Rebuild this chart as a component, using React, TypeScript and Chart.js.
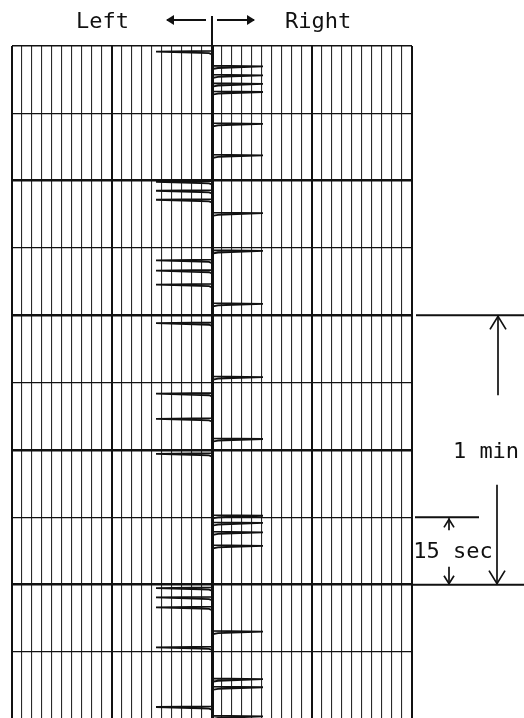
import React, { useEffect, useRef } from "react";
import { Chart, registerables } from "chart.js";

Chart.register(...registerables);

// Pen deflection events (time in seconds from top of strip)
const leftSpikeTimes = [1.1, 30.1, 32.1, 34.1, 47.6, 49.9, 53.0, 61.6, 77.3, 82.9, 90.7, 120.6, 122.7, 124.9, 133.8, 147.1];
const rightSpikeTimes = [4.4, 6.4, 8.3, 10.1, 17.2, 24.2, 37.1, 45.5, 57.3, 73.6, 87.4, 104.5, 106.1, 108.2, 111.2, 130.3, 140.9, 142.7, 149.2];
const leftAmplitude = -5.6; // chart divisions
const rightAmplitude = 5.1;

// Chart paper grid
const xGridValues = Array.from({ length: 41 }, (_, i) => i - 20);
const yGridValues = [0, 15, 30, 45, 60, 75, 90, 105, 120, 135];
const timeMax = 149.7;

// Annotation marks (seconds)
const oneMinFrom = 60;
const oneMinTo = 120;
const fifteenFrom = 105;
const fifteenTo = 120;

function buildPenTrace() {
  const events = [
    ...leftSpikeTimes.map((t) => ({ t, a: leftAmplitude })),
    ...rightSpikeTimes.map((t) => ({ t, a: rightAmplitude })),
  ].sort((p, q) => p.t - q.t);
  const pts: { x: number; y: number }[] = [{ x: 0, y: 0 }];
  for (const e of events) {
    pts.push({ x: 0, y: e.t });
    pts.push({ x: e.a, y: e.t + 0.15 });
    pts.push({ x: e.a > 0 ? 0.6 : -0.3, y: e.t + 0.5 });
    pts.push({ x: 0, y: e.t + 0.75 });
  }
  pts.push({ x: 0, y: timeMax });
  return pts;
}

const FONT = "'DejaVu Sans Mono', monospace";

function arrowHead(ctx: CanvasRenderingContext2D, x: number, y: number, dir: number, w: number, h: number) {
  // dir: -1 pointing up, 1 pointing down
  ctx.beginPath();
  ctx.moveTo(x - w, y - dir * h);
  ctx.lineTo(x, y);
  ctx.lineTo(x + w, y - dir * h);
  ctx.stroke();
}

const annotationPlugin = {
  id: "stripAnnotations",
  afterDraw(chart: any) {
    const ctx: CanvasRenderingContext2D = chart.ctx;
    const xs = chart.scales.x;
    const ys = chart.scales.y;
    const area = chart.chartArea;
    const W = chart.width;
    const xc = xs.getPixelForValue(0);
    ctx.save();
    ctx.strokeStyle = "#111";
    ctx.fillStyle = "#111";
    ctx.lineCap = "butt";

    // header
    ctx.lineWidth = 2;
    ctx.beginPath();
    ctx.moveTo(xc, 16);
    ctx.lineTo(xc, area.top);
    ctx.stroke();
    // left arrow
    ctx.beginPath();
    ctx.moveTo(xc - 6, 20);
    ctx.lineTo(xc - 45, 20);
    ctx.stroke();
    ctx.beginPath();
    ctx.moveTo(xc - 38, 15);
    ctx.lineTo(xc - 46, 20);
    ctx.lineTo(xc - 38, 25);
    ctx.closePath();
    ctx.fill();
    // right arrow
    ctx.beginPath();
    ctx.moveTo(xc + 5, 20);
    ctx.lineTo(xc + 42, 20);
    ctx.stroke();
    ctx.beginPath();
    ctx.moveTo(xc + 35, 15);
    ctx.lineTo(xc + 43, 20);
    ctx.lineTo(xc + 35, 25);
    ctx.closePath();
    ctx.fill();

    ctx.font = `22px ${FONT}`;
    ctx.textBaseline = "alphabetic";
    ctx.textAlign = "right";
    ctx.fillText("Left", xc - 83, 28);
    ctx.textAlign = "left";
    ctx.fillText("Right", xc + 73, 28);

    // dimension lines
    const y60 = ys.getPixelForValue(oneMinFrom);
    const y120 = ys.getPixelForValue(oneMinTo);
    const y105 = ys.getPixelForValue(fifteenFrom);
    const y120b = ys.getPixelForValue(fifteenTo);
    ctx.lineWidth = 2;
    ctx.beginPath();
    ctx.moveTo(area.right + 4, y60);
    ctx.lineTo(W, y60);
    ctx.moveTo(area.right, y120);
    ctx.lineTo(W, y120);
    ctx.moveTo(area.right + 3, y105);
    ctx.lineTo(area.right + 67, y105);
    ctx.stroke();

    // 1 min arrow
    const xa = area.right + 86;
    ctx.lineWidth = 1.7;
    ctx.beginPath();
    ctx.moveTo(xa, y60);
    ctx.lineTo(xa, y60 + 80);
    ctx.moveTo(xa - 1, y120 - 100);
    ctx.lineTo(xa - 1, y120);
    ctx.stroke();
    arrowHead(ctx, xa, y60 + 1, -1, 8, 13);
    arrowHead(ctx, xa - 1, y120 - 1, 1, 8, 13);
    ctx.font = `22px ${FONT}`;
    ctx.textAlign = "center";
    ctx.textBaseline = "middle";
    ctx.fillText("1 min", area.right + 74, (y60 + y120) / 2 + 2);

    // 15 sec arrow
    const xb = area.right + 37;
    ctx.beginPath();
    ctx.moveTo(xb, y105 + 1);
    ctx.lineTo(xb, y105 + 13);
    ctx.moveTo(xb, y120b - 18);
    ctx.lineTo(xb, y120b);
    ctx.stroke();
    arrowHead(ctx, xb, y105 + 2, -1, 5, 8);
    arrowHead(ctx, xb, y120b - 1, 1, 5, 8);
    ctx.fillText("15 sec", area.right + 41, (y105 + y120b) / 2 + 1);
    ctx.restore();
  },
};

export default function App() {
  const canvasRef = useRef<HTMLCanvasElement | null>(null);

  useEffect(() => {
    document.body.style.margin = "0";
    const canvas = canvasRef.current;
    if (!canvas) return;
    const chart = new Chart(canvas, {
      type: "scatter",
      data: {
        datasets: [
          {
            data: buildPenTrace(),
            showLine: true,
            borderColor: "#111",
            borderWidth: 1.8,
            pointRadius: 0,
            tension: 0,
          } as any,
        ],
      },
      options: {
        responsive: false,
        animation: false,
        layout: { padding: { left: 12, right: 112, top: 46, bottom: 0 }, autoPadding: false } as any,
        plugins: { legend: { display: false }, tooltip: { enabled: false } },
        scales: {
          x: {
            type: "linear",
            min: -20,
            max: 20,
            afterBuildTicks: (s: any) => {
              s.ticks = xGridValues.map((v) => ({ value: v }));
            },
            ticks: { display: false },
            border: { display: false },
            grid: {
              drawTicks: false,
              color: (c: any) => (c.tick && c.tick.value % 10 === 0 ? "#111" : "#2a2a2a"),
              lineWidth: (c: any) => {
                const v = c.tick ? c.tick.value : 1;
                if (v === 0) return 3;
                if (v === -20) return 2;
                return v % 10 === 0 ? 2 : 1.1;
              },
            },
          },
          y: {
            type: "linear",
            reverse: true,
            min: 0,
            max: timeMax,
            afterBuildTicks: (s: any) => {
              s.ticks = yGridValues.map((v) => ({ value: v }));
            },
            ticks: { display: false },
            border: { display: false },
            grid: {
              drawTicks: false,
              color: "#111",
              lineWidth: (c: any) => {
                const v = c.tick ? c.tick.value : 1;
                if (v === 0) return 1.5;
                return v % 30 === 0 ? 2.5 : 1.2;
              },
            },
          },
        },
      },
      plugins: [annotationPlugin],
    });
    return () => chart.destroy();
  }, []);

  return (
    <div style={{ position: "fixed", left: 0, top: 0, width: 524, height: 718, background: "#fff" }}>
      <canvas ref={canvasRef} width={524} height={718} style={{ display: "block" }} />
    </div>
  );
}
